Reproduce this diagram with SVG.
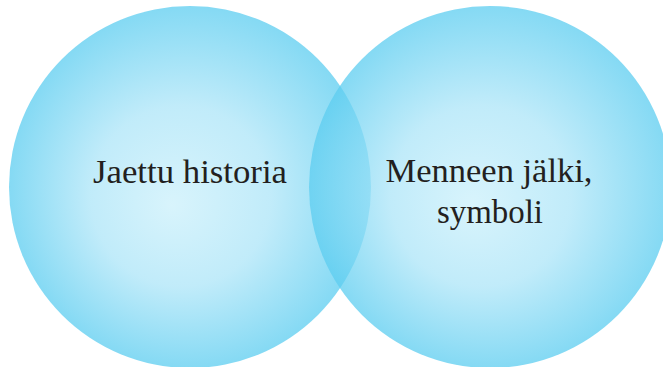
<svg xmlns="http://www.w3.org/2000/svg" width="663" height="367" viewBox="0 0 663 367">
<defs>
<radialGradient id="g" cx="0.5" cy="0.5" r="0.5" fx="0.45" fy="0.55">
<stop offset="0" stop-color="#cbf0fb" stop-opacity="0.75"/>
<stop offset="0.5" stop-color="#ace5f8" stop-opacity="0.75"/>
<stop offset="1" stop-color="#5ccdf0" stop-opacity="0.75"/>
</radialGradient>
<style>
.c{fill:url(#g)}
.t{font-family:"Liberation Serif",serif;font-size:34px;fill:#231f20;text-anchor:middle}
</style>
</defs>
<rect width="663" height="367" fill="#ffffff"/>
<g id="left">
<circle class="c" cx="190" cy="187" r="181"/>
<text class="t" x="190" y="183" textLength="194" lengthAdjust="spacingAndGlyphs">Jaettu historia</text>
</g>
<g id="right">
<circle class="c" cx="490" cy="187" r="181"/>
<text class="t" x="489" y="182" textLength="207" lengthAdjust="spacingAndGlyphs">Menneen jälki,</text>
<text class="t" x="490" y="223" textLength="106" lengthAdjust="spacingAndGlyphs">symboli</text>
</g>
<g id="connectors"/>
</svg>
